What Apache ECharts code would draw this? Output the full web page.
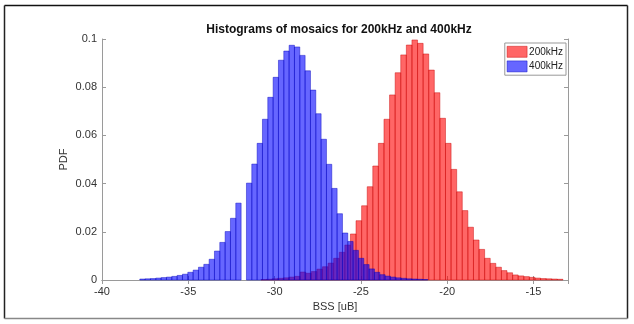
<!DOCTYPE html>
<html>
<head>
<meta charset="utf-8">
<script src="https://cdn.jsdelivr.net/npm/echarts@6/dist/echarts.min.js"></script>
<style>html,body{margin:0;padding:0;background:#fff}#c{width:634px;height:324px}</style>
</head>
<body>
<div id="c"></div>
<script>
// ---- data ----
const titleText = 'Histograms of mosaics for 200kHz and 400kHz';
const xName = 'BSS [uB]';
const yName = 'PDF';
const seriesNames = ['200kHz', '400kHz'];
// 200kHz histogram: first bin left edge, bin width, PDF values
const redStart = -30.79;
const redWidth = 0.324;
const redValues = [0.0002,0.0003,0.0005,0.0007,0.0009,0.0012,0.0015,0.0033,0.0028,0.0035,0.0045,0.0055,0.0070,0.0090,0.0115,0.0145,
  0.0191,0.0246,0.0308,0.0387,0.0473,0.0567,0.0667,0.0768,0.0860,0.0934,0.0975,0.0996,0.0982,0.0938,0.0871,0.0777,0.0671,0.0567,0.0459,0.0366,
  0.0288,0.0219,0.0166,0.0127,0.0090,0.0069,0.0053,0.0039,0.0030,0.0021,0.0017,0.0014,0.0011,0.0008,0.0006,0.0005,0.0004,0.0003];
// 400kHz histogram
const blueStart = -37.81;
const blueWidth = 0.309;
const blueValues = [0.0004,0.0005,0.0006,0.0008,0.0010,0.0012,0.0015,0.0019,0.0024,0.0032,0.0041,0.0053,0.0065,0.0086,0.0120,0.0156,0.0201,0.0256,0.0319,
  0,
  0.0402,0.0481,0.0567,0.0667,0.0758,0.0841,0.0912,0.0950,0.0974,0.0967,0.0932,0.0868,0.0788,0.0690,0.0584,0.0480,0.0380,0.0275,0.0195,
  0.0160,0.0123,0.0090,0.0064,0.0046,0.0032,0.0022,0.0016,0.0012,0.0009,0.0007,0.0005,0.0004,0.0003,0.0002];
const xMin = -40, xMax = -13, xInterval = 5;
const yMin = 0, yMax = 0.1, yInterval = 0.02;

// ---- build ----
function bins(start, w, vals) {
  return vals.map((v, i) => [start + i * w, start + (i + 1) * w, v]);
}
const colors = {
  red: {fill: 'rgba(255,0,0,0.6)', stroke: 'rgba(200,0,0,0.75)'},
  blue: {fill: 'rgba(0,0,255,0.6)', stroke: 'rgba(0,0,190,0.75)'}
};
function histSeries(name, data, c) {
  return {
    type: 'custom', name: name, data: data,
    encode: {x: [0, 1], y: 2},
    itemStyle: {color: c.fill, borderColor: c.stroke},
    renderItem: function (params, api) {
      const v = api.value(2);
      if (!v) return null;
      const p0 = api.coord([api.value(0), 0]);
      const p1 = api.coord([api.value(1), v]);
      return {
        type: 'rect',
        shape: {x: p0[0], y: p1[1], width: p1[0] - p0[0], height: p0[1] - p1[1]},
        style: {fill: c.fill, stroke: c.stroke, lineWidth: 0.6}
      };
    }
  };
}
const axisGray = '#9a9a9a';
const labelColor = '#333';
const font = 'Liberation Sans, Arial, sans-serif';
const chart = echarts.init(document.getElementById('c'), null, {renderer: 'canvas'});
chart.setOption({
  animation: false,
  backgroundColor: '#fff',
  textStyle: {fontFamily: font},
  title: {
    text: titleText, left: 334, top: 19, textAlign: 'center',
    textStyle: {fontSize: 12, fontWeight: 'bold', color: '#111', fontFamily: font}
  },
  legend: {
    orient: 'vertical', right: 68, top: 43,
    itemWidth: 20, itemHeight: 11, itemGap: 3,
    padding: [3, 3, 3, 2],
    borderColor: '#999', borderWidth: 1, backgroundColor: '#fff',
    textStyle: {fontSize: 10, color: '#222', fontFamily: font, padding: [0, 0, 0, -3]},
    data: [
      {name: seriesNames[0], icon: 'rect', itemStyle: {color: colors.red.fill, borderColor: colors.red.stroke, borderWidth: 0.6}},
      {name: seriesNames[1], icon: 'rect', itemStyle: {color: colors.blue.fill, borderColor: colors.blue.stroke, borderWidth: 0.6}}
    ]
  },
  grid: {left: 102, right: 66, top: 39, bottom: 44},
  xAxis: [{
    type: 'value', min: xMin, max: xMax, interval: xInterval,
    name: xName, nameLocation: 'middle', nameGap: 21,
    nameTextStyle: {fontSize: 11, color: labelColor, fontFamily: font},
    axisLine: {show: true, lineStyle: {color: axisGray}},
    axisTick: {show: true, inside: true, length: 4, lineStyle: {color: axisGray}},
    axisLabel: {showMaxLabel: false, fontSize: 11, color: labelColor, margin: 6, fontFamily: font},
    splitLine: {show: false}
  }, {
    type: 'value', min: xMin, max: xMax, interval: xInterval, position: 'top',
    axisLine: {show: true, lineStyle: {color: axisGray}},
    axisTick: {show: true, inside: true, length: 4, lineStyle: {color: axisGray}},
    axisLabel: {show: false}, splitLine: {show: false}
  }],
  yAxis: [{
    type: 'value', min: yMin, max: yMax, interval: yInterval,
    name: yName, nameLocation: 'middle', nameGap: 33, nameMoveOverlap: false,
    nameTextStyle: {fontSize: 11, color: labelColor, fontFamily: font},
    axisLine: {show: true, lineStyle: {color: axisGray}},
    axisTick: {show: true, inside: true, length: 4, lineStyle: {color: axisGray}},
    axisLabel: {fontSize: 11, color: labelColor, margin: 5, fontFamily: font,
      formatter: v => v === 0 ? '0' : String(+v.toFixed(2))},
    splitLine: {show: false}
  }, {
    type: 'value', min: yMin, max: yMax, interval: yInterval, position: 'right',
    axisLine: {show: true, lineStyle: {color: axisGray}},
    axisTick: {show: true, inside: true, length: 4, lineStyle: {color: axisGray}},
    axisLabel: {show: false}, splitLine: {show: false}
  }],
  graphic: [
    {type: 'line', shape: {x1: 4.5, y1: 5.5, x2: 627.5, y2: 5.5}, style: {stroke: '#111', lineWidth: 1.5}},
    {type: 'line', shape: {x1: 4.5, y1: 5.5, x2: 4.5, y2: 318.5}, style: {stroke: '#222', lineWidth: 1.5}},
    {type: 'line', shape: {x1: 627.5, y1: 5.5, x2: 627.5, y2: 318.5}, style: {stroke: '#222', lineWidth: 1.5}},
    {type: 'line', shape: {x1: 4.5, y1: 318.5, x2: 627.5, y2: 318.5}, style: {stroke: '#888', lineWidth: 1.5}}
  ],
  series: [
    histSeries(seriesNames[0], bins(redStart, redWidth, redValues), colors.red),
    histSeries(seriesNames[1], bins(blueStart, blueWidth, blueValues), colors.blue)
  ]
});
</script>
</body>
</html>
